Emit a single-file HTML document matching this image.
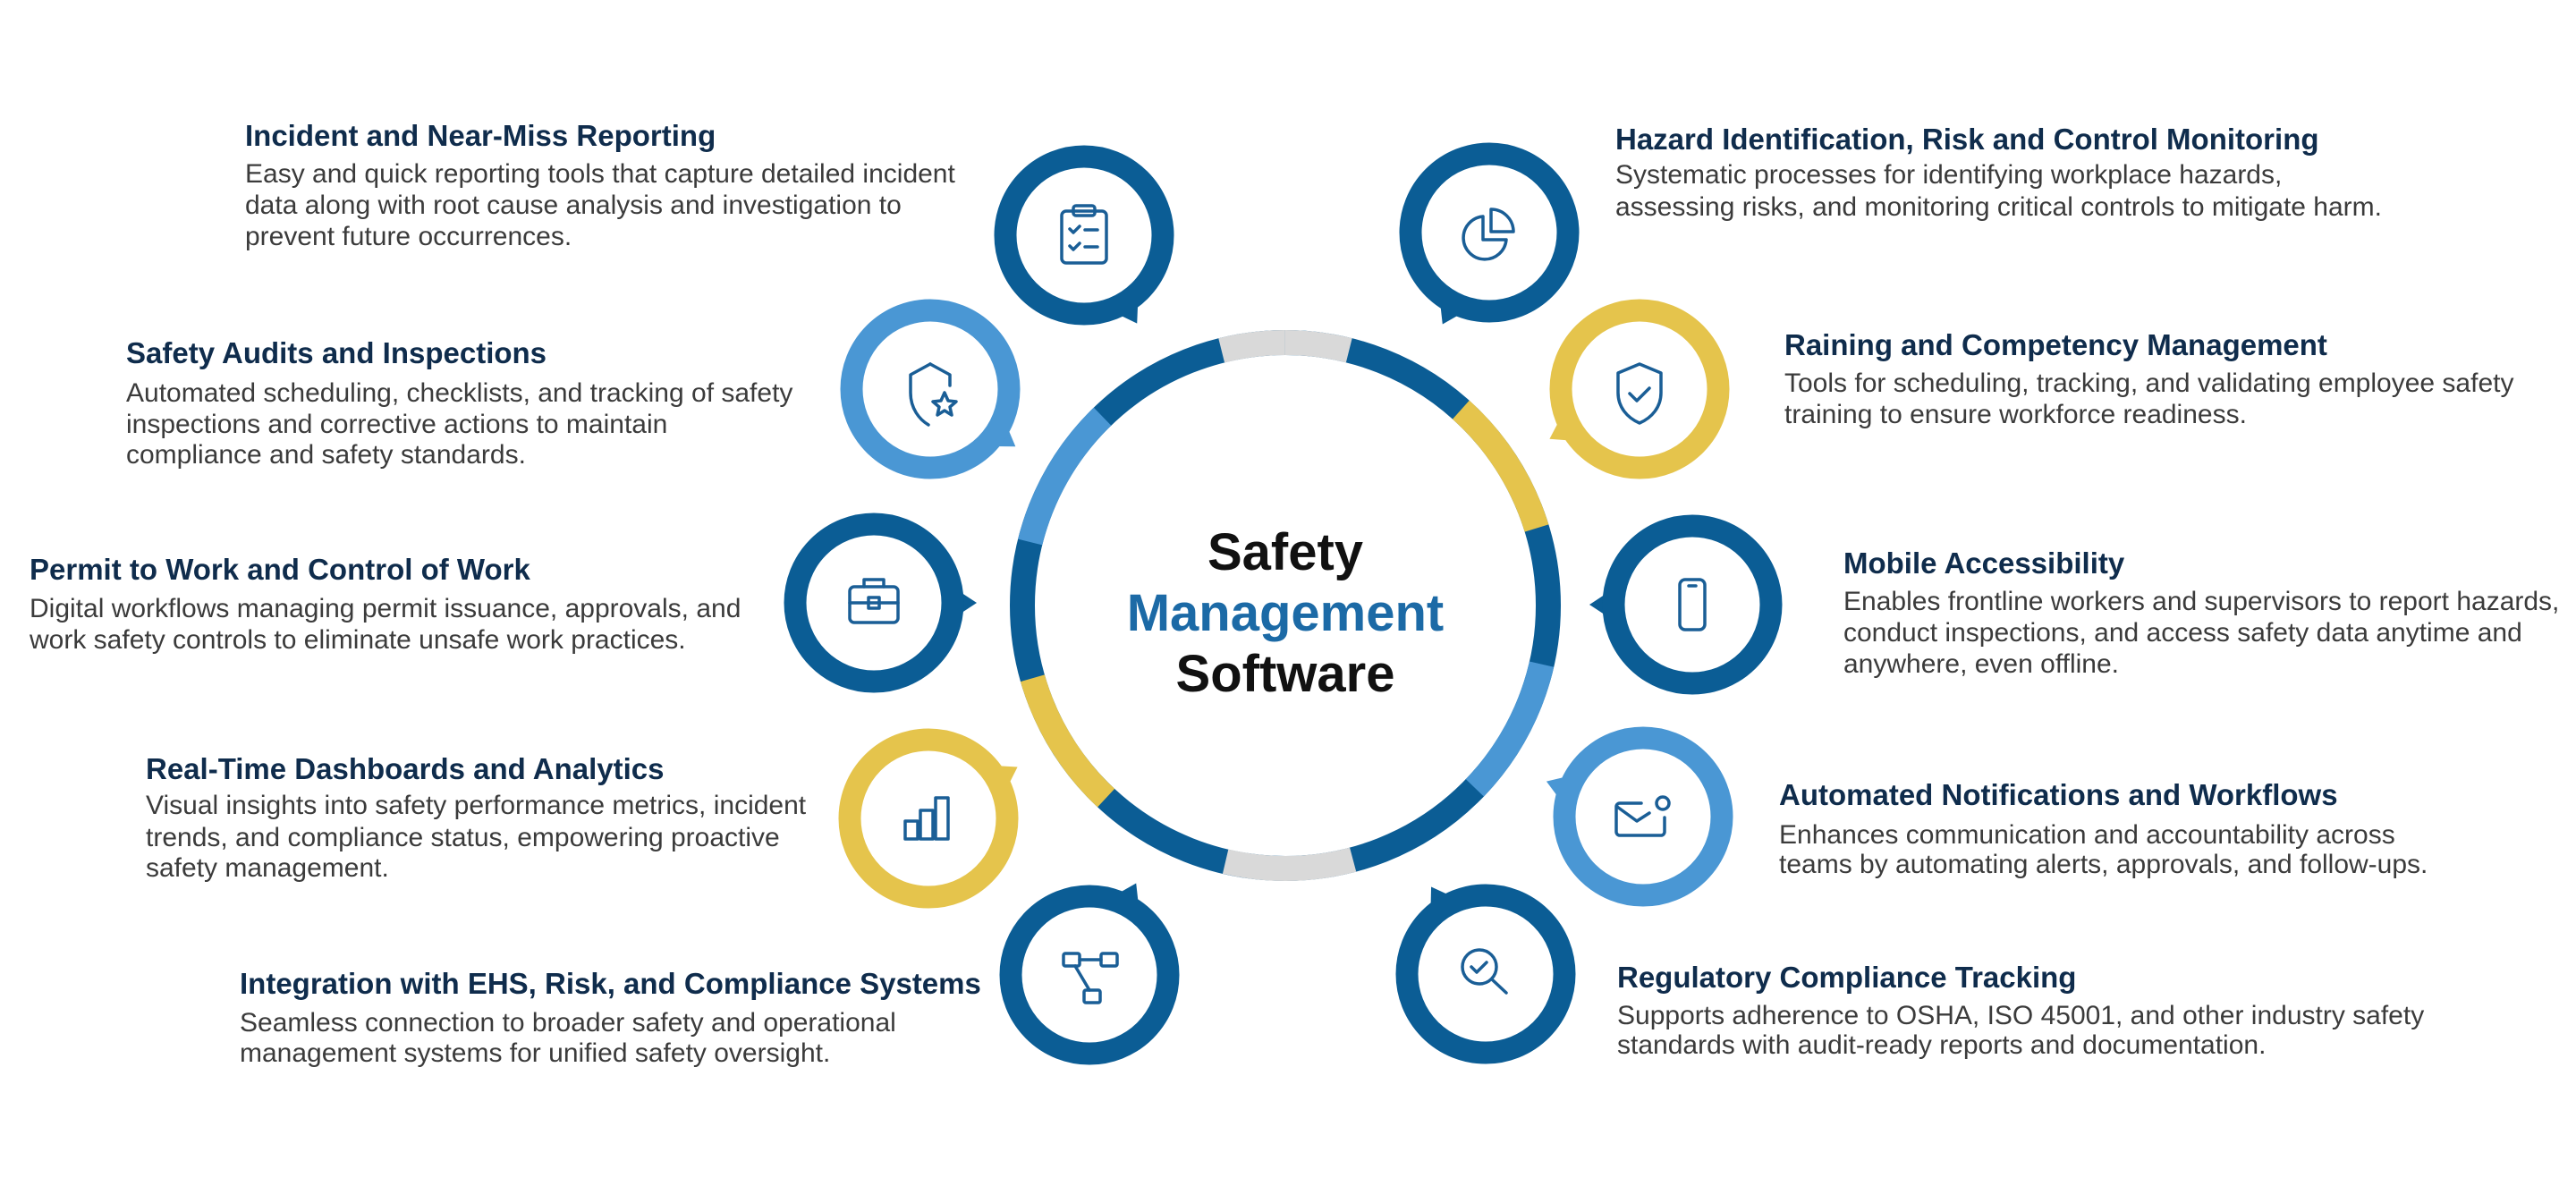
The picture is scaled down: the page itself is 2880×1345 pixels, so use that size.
<!DOCTYPE html>
<html><head><meta charset="utf-8"><style>
html,body{margin:0;padding:0;background:#fff;}
svg{display:block}
.t{font-family:"Liberation Sans",sans-serif;font-weight:bold;font-size:33px;fill:#0f2c4c}
.b{font-family:"Liberation Sans",sans-serif;font-size:30px;fill:#3b3b3b}
.c{font-family:"Liberation Sans",sans-serif;font-weight:bold;font-size:58px;text-anchor:middle}
.ic{fill:none;stroke:#1a5e96;stroke-width:3.5;stroke-linecap:round;stroke-linejoin:round}
</style></head><body>
<svg width="2880" height="1345" viewBox="0 0 2880 1345" xmlns="http://www.w3.org/2000/svg">
<rect width="2880" height="1345" fill="#fff"/>
<g transform="rotate(-90 1437 677)" fill="none" stroke-width="28">
<circle cx="1437" cy="677" r="294" stroke="#0b5d95"/>
<circle cx="1437" cy="677" r="294" stroke="#d9d9d9" stroke-dasharray="72 2000" stroke-dashoffset="0"/>
<circle cx="1437" cy="677" r="294" stroke="#d9d9d9" stroke-dasharray="72 2000" stroke-dashoffset="-1775"/>
<circle cx="1437" cy="677" r="294" stroke="#e5c44c" stroke-dasharray="159 2000" stroke-dashoffset="-215"/>
<circle cx="1437" cy="677" r="294" stroke="#4a97d4" stroke-dasharray="159 2000" stroke-dashoffset="-528"/>
<circle cx="1437" cy="677" r="294" stroke="#d9d9d9" stroke-dasharray="144 2000" stroke-dashoffset="-847"/>
<circle cx="1437" cy="677" r="294" stroke="#e5c44c" stroke-dasharray="159 2000" stroke-dashoffset="-1144"/>
<circle cx="1437" cy="677" r="294" stroke="#4a97d4" stroke-dasharray="164 2000" stroke-dashoffset="-1457"/>
</g>
<text class="c" x="1437" y="637" fill="#111">Safety</text>
<text class="c" x="1437" y="705" fill="#1c6aa6">Management</text>
<text class="c" x="1437" y="773" fill="#111">Software</text>

<g>
<g fill="#0b5d95"><polygon transform="rotate(-31 1212 263)" points="1187,340 1237,340 1212,378" /></g>
<circle cx="1212" cy="263" r="88" fill="#fff" stroke="#0b5d95" stroke-width="25"/>
<g fill="#0b5d95"><polygon transform="rotate(27 1665 260)" points="1640,337 1690,337 1665,375"/></g>
<circle cx="1665" cy="260" r="88" fill="#fff" stroke="#0b5d95" stroke-width="25"/>
<g fill="#4a97d4"><polygon transform="rotate(-56 1040 435)" points="1015,512 1065,512 1040,550"/></g>
<circle cx="1040" cy="435" r="88" fill="#fff" stroke="#4a97d4" stroke-width="25"/>
<g fill="#e5c44c"><polygon transform="rotate(61 1833 435)" points="1808,512 1858,512 1833,550"/></g>
<circle cx="1833" cy="435" r="88" fill="#fff" stroke="#e5c44c" stroke-width="25"/>
<g fill="#0b5d95"><polygon transform="rotate(-90 977 674)" points="952,751 1002,751 977,789"/></g>
<circle cx="977" cy="674" r="88" fill="#fff" stroke="#0b5d95" stroke-width="25"/>
<g fill="#0b5d95"><polygon transform="rotate(90 1892 676)" points="1867,753 1917,753 1892,791"/></g>
<circle cx="1892" cy="676" r="88" fill="#fff" stroke="#0b5d95" stroke-width="25"/>
<g fill="#e5c44c"><polygon transform="rotate(-120 1038 915)" points="1013,992 1063,992 1038,1030"/></g>
<circle cx="1038" cy="915" r="88" fill="#fff" stroke="#e5c44c" stroke-width="25"/>
<g fill="#4a97d4"><polygon transform="rotate(110 1837 913)" points="1812,990 1862,990 1837,1028"/></g>
<circle cx="1837" cy="913" r="88" fill="#fff" stroke="#4a97d4" stroke-width="25"/>
<g fill="#0b5d95"><polygon transform="rotate(-153 1218 1090)" points="1193,1167 1243,1167 1218,1205"/></g>
<circle cx="1218" cy="1090" r="88" fill="#fff" stroke="#0b5d95" stroke-width="25"/>
<g fill="#0b5d95"><polygon transform="rotate(148 1661 1089)" points="1636,1166 1686,1166 1661,1204"/></g>
<circle cx="1661" cy="1089" r="88" fill="#fff" stroke="#0b5d95" stroke-width="25"/>
</g>

<g class="ic">
<rect x="1187" y="236" width="50" height="58" rx="5"/><rect x="1200" y="230" width="24" height="11" rx="3"/>
<path d="M1196 256l4 4 7-7M1213 257h14M1196 275l4 4 7-7M1213 276h14"/>
<path d="M1658 242a24 24 0 1 0 26 26h-26z"/><path d="M1667 234v25h25a25 25 0 0 0-25-25z"/>
<path d="M1040 407l-22 12v20c0 18 10 30 20 36"/><path d="M1040 407l22 12v12"/>
<path d="M1056 439l4 9 9 1-7 6 2 9-8-5-8 5 2-9-7-6 9-1z"/>
<path d="M1833 407l-24 10v22c0 16 10 28 24 34 14-6 24-18 24-34v-22z"/><path d="M1822 440l8 8 14-14"/>
<rect x="950" y="656" width="54" height="40" rx="5"/><path d="M966 656v-8h22v8M950 674h54"/><rect x="971" y="668" width="12" height="12"/>
<rect x="1878" y="648" width="28" height="56" rx="6"/><path d="M1888 655h8"/>
<rect x="1012" y="918" width="14" height="20"/><rect x="1029" y="906" width="14" height="32"/><rect x="1046" y="892" width="14" height="46"/>
<path d="M1835 898h-24a4 4 0 0 0-4 4v28a4 4 0 0 0 4 4h46a4 4 0 0 0 4-4v-16"/><path d="M1808 902l22 16 14-9"/><circle cx="1859" cy="898" r="7"/>
<rect x="1189" y="1066" width="18" height="14" rx="2"/><rect x="1231" y="1066" width="18" height="14" rx="2"/><rect x="1212" y="1107" width="18" height="14" rx="2"/>
<path d="M1207 1073h24M1202 1080l16 27"/>
<circle cx="1654" cy="1081" r="19"/><path d="M1668 1095l16 15M1645 1081l6 6 11-11"/>
</g>

<text class="t" x="274" y="163">Incident and Near-Miss Reporting</text>
<text class="b" x="274" y="204">Easy and quick reporting tools that capture detailed incident</text>
<text class="b" x="274" y="239">data along with root cause analysis and investigation to</text>
<text class="b" x="274" y="274">prevent future occurrences.</text>

<text class="t" x="141" y="406">Safety Audits and Inspections</text>
<text class="b" x="141" y="449">Automated scheduling, checklists, and tracking of safety</text>
<text class="b" x="141" y="484">inspections and corrective actions to maintain</text>
<text class="b" x="141" y="518">compliance and safety standards.</text>

<text class="t" x="33" y="648">Permit to Work and Control of Work</text>
<text class="b" x="33" y="690">Digital workflows managing permit issuance, approvals, and</text>
<text class="b" x="33" y="725">work safety controls to eliminate unsafe work practices.</text>

<text class="t" x="163" y="871">Real-Time Dashboards and Analytics</text>
<text class="b" x="163" y="910">Visual insights into safety performance metrics, incident</text>
<text class="b" x="163" y="946">trends, and compliance status, empowering proactive</text>
<text class="b" x="163" y="980">safety management.</text>

<text class="t" x="268" y="1111">Integration with EHS, Risk, and Compliance Systems</text>
<text class="b" x="268" y="1153">Seamless connection to broader safety and operational</text>
<text class="b" x="268" y="1187">management systems for unified safety oversight.</text>

<text class="t" x="1806" y="167">Hazard Identification, Risk and Control Monitoring</text>
<text class="b" x="1806" y="205">Systematic processes for identifying workplace hazards,</text>
<text class="b" x="1806" y="241">assessing risks, and monitoring critical controls to mitigate harm.</text>

<text class="t" x="1995" y="397">Raining and Competency Management</text>
<text class="b" x="1995" y="438">Tools for scheduling, tracking, and validating employee safety</text>
<text class="b" x="1995" y="473">training to ensure workforce readiness.</text>

<text class="t" x="2061" y="641">Mobile Accessibility</text>
<text class="b" x="2061" y="682">Enables frontline workers and supervisors to report hazards,</text>
<text class="b" x="2061" y="717">conduct inspections, and access safety data anytime and</text>
<text class="b" x="2061" y="752">anywhere, even offline.</text>

<text class="t" x="1989" y="900">Automated Notifications and Workflows</text>
<text class="b" x="1989" y="943">Enhances communication and accountability across</text>
<text class="b" x="1989" y="976">teams by automating alerts, approvals, and follow-ups.</text>

<text class="t" x="1808" y="1104">Regulatory Compliance Tracking</text>
<text class="b" x="1808" y="1145">Supports adherence to OSHA, ISO 45001, and other industry safety</text>
<text class="b" x="1808" y="1178">standards with audit-ready reports and documentation.</text>
</svg>
</body></html>
